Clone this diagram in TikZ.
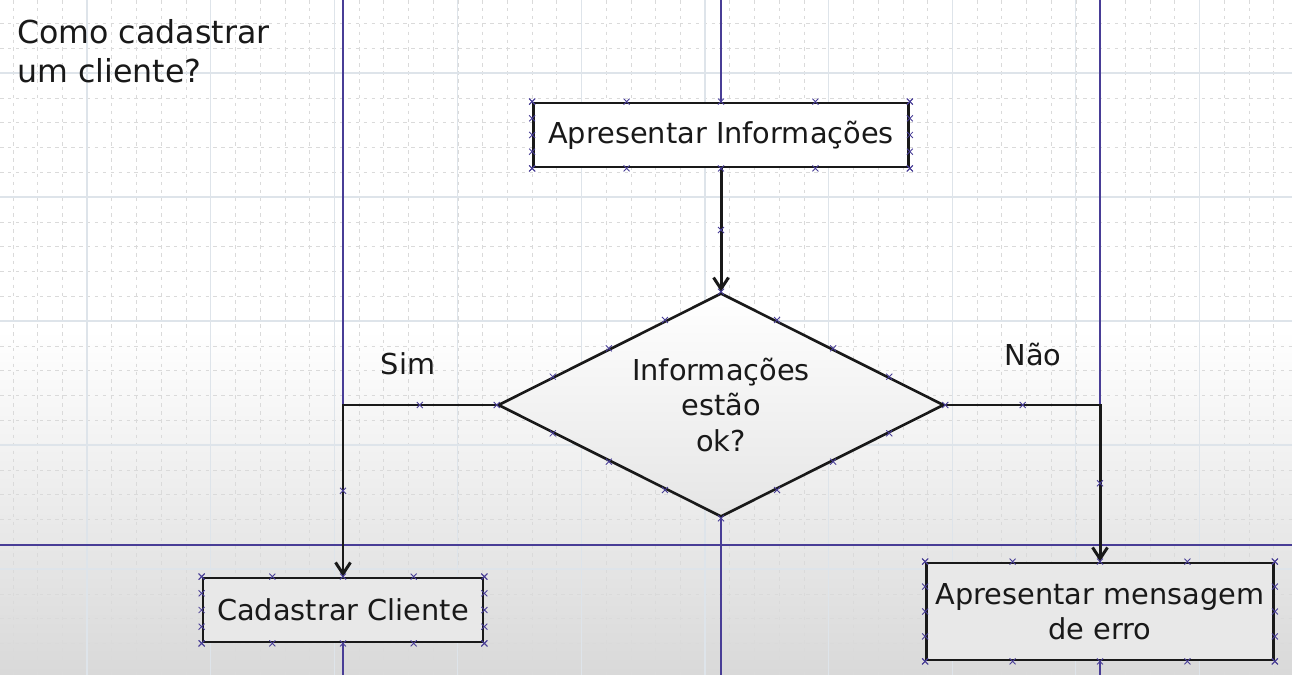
\documentclass[tikz,border=0pt]{standalone}
\usepackage{fontspec}
\setmainfont{DejaVu Sans}
\usetikzlibrary{shapes.geometric, arrows.meta, calc}

\definecolor{lanecol}{RGB}{72,61,150}
\definecolor{gridmajor}{RGB}{222,228,234}
\definecolor{gridminor}{RGB}{218,218,218}
\definecolor{ink}{RGB}{25,25,25}

\newcommand{\cpmark}[1]{\draw[cpmark] #1 ++(-3,-3) -- ++(6,6) ++(-6,0) -- ++(6,-6);}

\tikzset{
  procbox/.style={rectangle, draw=ink, line width=1.6pt, text=ink, align=center, inner sep=2pt},
  decision/.style={diamond, draw=ink, line width=1.5pt, text=ink, align=center, aspect=2,
    inner sep=1pt, minimum width=8.92cm, minimum height=4.48cm, top color=white, bottom color=black!10},
  flowline/.style={draw=ink, line width=1.7pt, -{Straight Barb[length=6.5pt,width=8.5pt]}},
  lane/.style={draw=lanecol, line width=0.9pt},
  cpmark/.style={draw=lanecol, line width=0.5pt},
}

\begin{document}
\begin{tikzpicture}[x=0.02cm, y=-0.02cm, font=\fontsize{16.4}{20}\selectfont]
    \useasboundingbox (0,0) rectangle (1292,675);

    % background and grid
    \fill[white] (0,0) rectangle (1292,675);
    \shade[top color=white, bottom color=black!15] (0,330) rectangle (1292,675);
    \foreach \i in {0,...,52}
        \draw[gridminor, dash pattern=on 2pt off 2.5pt, line width=0.35pt] ({12.9+24.72*\i},0) -- ++(0,675);
    \foreach \i in {0,...,28}
        \draw[gridminor, dash pattern=on 2pt off 2.5pt, line width=0.35pt] (0,{-1.2+24.8*\i}) -- ++(1292,0);
    \foreach \i in {0,...,9}
        \draw[gridmajor, line width=0.6pt] ({87+123.6*\i},0) -- ++(0,675);
    \foreach \i in {0,...,4}
        \draw[gridmajor, line width=0.6pt] (0,{73+124*\i}) -- ++(1292,0);

    % swimlanes
    \draw[lane] (343,0) -- (343,675);
    \draw[lane] (721,0) -- (721,675);
    \draw[lane] (1100,0) -- (1100,675);
    \draw[lane] (0,545) -- (1292,545);

    \node[anchor=north west, inner sep=0, align=left, text=ink, font=\fontsize{18}{22.2}\selectfont]
        (title) at (17,19) {Como cadastrar\\um cliente?};

    \node[procbox, fill=white, minimum width=7.5cm, minimum height=1.28cm] (info) at (721,135) {Apresentar Informações};
    \node[decision] (check) at (721,405) {Informações\\estão\\ok?};
    \node[procbox, fill=black!9, minimum width=5.6cm, minimum height=1.28cm] (cad) at (343,610) {Cadastrar Cliente};
    \node[procbox, fill=black!9, minimum width=6.94cm, minimum height=1.94cm] (erro) at (1100,611.5) {Apresentar mensagem\\de erro};

    \node[text=ink] (sim) at (408,364) {Sim};
    \node[text=ink] (nao) at (1033,355) {Não};

    \draw[flowline] (info.south) -- (check.north);
    \draw[flowline] (check.west) -| (cad.north);
    \draw[flowline] (check.east) -| (erro.north);

    % connection points
    \foreach \n in {info,cad,erro}
        \foreach \f in {0,0.25,0.5,0.75,1} {
            \cpmark{($(\n.north west)!\f!(\n.north east)$)}
            \cpmark{($(\n.south west)!\f!(\n.south east)$)}
            \cpmark{($(\n.north west)!\f!(\n.south west)$)}
            \cpmark{($(\n.north east)!\f!(\n.south east)$)}
        }
    \foreach \f in {0,0.25,0.5,0.75} {
        \cpmark{($(check.north)!\f!(check.east)$)}
        \cpmark{($(check.east)!\f!(check.south)$)}
        \cpmark{($(check.south)!\f!(check.west)$)}
        \cpmark{($(check.west)!\f!(check.north)$)}
    }
    \cpmark{($(info.south)!0.5!(check.north)$)}
    \cpmark{($(check.west)!0.5!(check.west -| cad.north)$)}
    \cpmark{($(check.west -| cad.north)!0.5!(cad.north)$)}
    \cpmark{($(check.east)!0.5!(check.east -| erro.north)$)}
    \cpmark{($(check.east -| erro.north)!0.5!(erro.north)$)}
\end{tikzpicture}
\end{document}
